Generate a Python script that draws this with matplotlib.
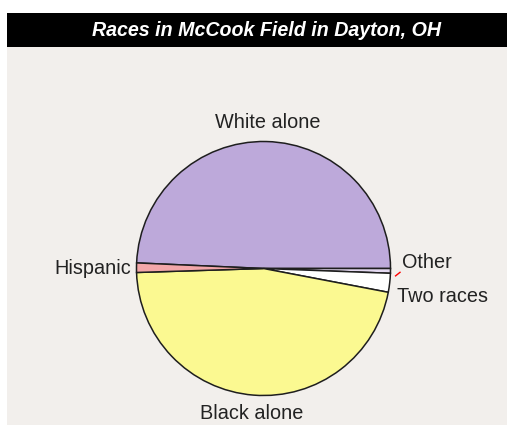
import matplotlib
matplotlib.use("Agg")
import matplotlib.pyplot as plt
from matplotlib.patches import Rectangle
from matplotlib.lines import Line2D

# ---- data ----
categories = ["White alone", "Other", "Two races", "Black alone", "Hispanic"]
shares = [49.3, 0.6, 2.4, 46.5, 1.2]
colors = ["#bda9da", "#e4d9f1", "#ffffff", "#fbf991", "#f3a7a9"]
title = "Races in McCook Field in Dayton, OH"

# ---- layout ----
W, H = 514, 436
cx, cy, R = 263.5, 268.5, 127.0
fig = plt.figure(figsize=(W / 100, H / 100), dpi=100)
fig.patch.set_facecolor("white")

def frac_rect(x0, y0, x1, y1, color):
    fig.patches.append(Rectangle((x0 / W, 1 - y1 / H), (x1 - x0) / W, (y1 - y0) / H,
                                 transform=fig.transFigure, facecolor=color,
                                 edgecolor="none", zorder=-5))

frac_rect(7, 47, 507, 425, "#f2efec")
frac_rect(7, 13, 507, 47, "#000000")
fig.text(266 / W, 1 - 31 / H, title, color="white", ha="center", va="center",
         fontsize=14.1, fontweight="bold", fontstyle="italic",
         family="Liberation Sans", zorder=5)

ax = fig.add_axes([0, 0, 1, 1])
ax.set_zorder(2)
ax.set_facecolor("none")

start = 360 * shares[0] / sum(shares)
wedges, _ = ax.pie(shares, colors=colors, startangle=start, counterclock=False,
                   radius=1.0, center=(0, 0), frame=True,
                   wedgeprops=dict(edgecolor="#1e1e1e", linewidth=1.1))
ax.set_xlim(-cx / R, (W - cx) / R)
ax.set_ylim((cy - H) / R, cy / R)
ax.set_aspect("auto")
ax.axis("off")

label_pos = {
    "White alone": (0.035, 1.15, "center"),
    "Other": (1.09, 0.05, "left"),
    "Two races": (1.05, -0.217, "left"),
    "Black alone": (-0.09, -1.14, "center"),
    "Hispanic": (-1.043, 0.0, "right"),
}
for name in categories:
    x, y, ha = label_pos[name]
    ax.text(x, y, name, ha=ha, va="center", fontsize=14.3,
            family="Liberation Sans", color="#222222")

ax.add_line(Line2D([1.04, 1.075], [-0.058, -0.03], color="red", linewidth=1.0))

fig.savefig("out.png", dpi=100)
